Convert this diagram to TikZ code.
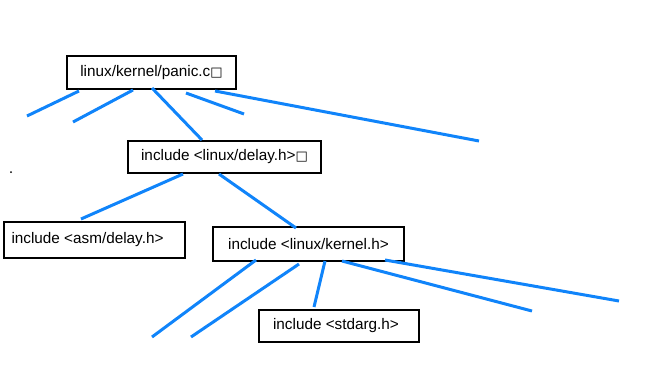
\documentclass[tikz,border=0pt]{standalone}
\usepackage{fontspec}
\setmainfont{Liberation Sans}
\newfontfamily\sqfont{DejaVu Sans}
\usetikzlibrary{calc}
\definecolor{incblue}{RGB}{16,132,250}
\newcommand{\sqmark}{{\sqfont\fontsize{13}{13}\selectfont □}}

\begin{document}
\begin{tikzpicture}[x=1pt, y=-1pt,
  src/.style ={draw, line width=2pt, rectangle, inner sep=0pt,
               align=center, font=\fontsize{15.3}{18}\selectfont},
  inc/.style ={draw=incblue, line width=3pt},
]
\useasboundingbox (0,0) rectangle (655,380);

\node[src, minimum width=169pt, minimum height=33pt] (panic)    at (151.5,72.5) {linux/kernel/panic.c\sqmark};
\node[src, minimum width=193pt, minimum height=32pt] (delay)    at (224.5,157)  {include <linux/delay.h>\sqmark};
\node[src, minimum width=181pt, minimum height=36pt] (asmdelay) at (94.5,240)   {include <asm/delay.h>\hspace{14pt}};
\node[src, minimum width=191pt, minimum height=34pt] (kernel)   at (308.5,244)  {include <linux/kernel.h>};
\node[src, minimum width=160pt, minimum height=32pt] (stdarg)   at (339,326)    {\hspace{-6pt}include <stdarg.h>};

\coordinate (p1) at (27,116);
\coordinate (p2) at (73,122);
\coordinate (p4) at (244,114);
\coordinate (p5) at (479,141);
\coordinate (k1) at (152,337);
\coordinate (k2) at (191,337);
\coordinate (k4) at (532,311);
\coordinate (k5) at (619,301);

\draw[inc] ([shift={(13,1)}]panic.south west)  -- (p1);
\draw[inc] ([shift={(67,0)}]panic.south west)  -- (p2);
\draw[inc] ([shift={(86,-2)}]panic.south west) -- ([shift={(75,0)}]delay.north west);
\draw[inc] ([shift={(120,3)}]panic.south west) -- (p4);
\draw[inc] ([shift={(149,1)}]panic.south west) -- (p5);

\draw[inc] ([shift={(56,0)}]delay.south west) -- ([shift={(78,-2)}]asmdelay.north west);
\draw[inc] ([shift={(92,0)}]delay.south west) -- ([shift={(84,2)}]kernel.north west);

\draw[inc] ([shift={(44,-2)}]kernel.south west)  -- (k1);
\draw[inc] ([shift={(87,2)}]kernel.south west)   -- (k2);
\draw[inc] ([shift={(113,-1)}]kernel.south west) -- ([shift={(56,-2)}]stdarg.north west);
\draw[inc] ([shift={(130,-1)}]kernel.south west) -- (k4);
\draw[inc] ([shift={(-20,-2)}]kernel.south east) -- (k5);

\fill (11,172) circle (1pt);
\end{tikzpicture}
\end{document}
